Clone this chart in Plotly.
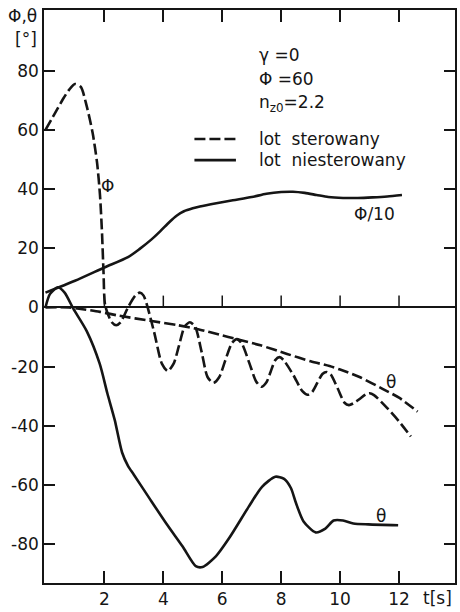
import plotly.graph_objects as go

# --- data -------------------------------------------------------------
# roll angle, controlled flight (dashed)
phi_ctrl_t = [0, 0.2, 0.4, 0.6, 0.8, 1.0, 1.2, 1.4, 1.6, 1.75, 1.85, 1.92, 1.97, 2.03,
              2.25, 2.4, 2.55, 2.8, 3.05, 3.2, 3.33, 3.68, 3.95, 4.15, 4.35, 4.53,
              4.72, 4.9, 5.08, 5.3, 5.5, 5.7, 5.9, 6.1, 6.33, 6.5, 6.67, 6.92, 7.15,
              7.33, 7.5, 7.64, 7.8, 7.95, 8.1, 8.42, 8.72, 8.9, 9.05, 9.22, 9.4, 9.54,
              9.68, 9.92, 10.15, 10.3, 10.45, 10.65, 10.87, 11.0, 11.15, 11.6, 12.0,
              12.4]
phi_ctrl_v = [60, 63.5, 67, 70.5, 73.5, 75.5, 74.5, 68, 59, 49, 38, 25, 12, 0.5,
              -5, -6, -5, 0, 4, 5, 4, -8, -19, -21.5, -19, -13,
              -6.5, -5, -6.5, -15, -23.5, -25.5, -23.5, -18, -12, -10.7, -12.3, -18.8, -25,
              -26.8, -25.3, -21.8, -17.8, -16.8, -18, -23, -28.3, -29.5, -28.6, -25.6, -22.5, -21.8,
              -22.6, -27.4, -32.2, -33, -32.4, -31, -29.4, -29, -29.6, -34, -38.5,
              -43.6]

# pitch angle, controlled flight (dashed, smooth)
theta_ctrl_t = [0, 0.8, 1.2, 1.85, 2.5, 3.55, 4.5, 5.24, 5.9, 6.5, 7.3, 8.2, 9.0, 9.64,
                10.0, 10.66, 11.44, 12.0, 12.63]
theta_ctrl_v = [0, 0, -0.5, -1.5, -2.8, -4.5, -6, -7.5, -9.2, -10.7, -12.8, -15.7, -18.2,
                -19.8, -21, -23.5, -27.5, -30.5, -35.2]

# roll angle / 10, uncontrolled flight (solid)
phi10_t = [0, 1.0, 2.0, 2.8, 3.2, 3.6, 3.9, 4.2, 4.45, 4.7, 5.0, 5.24, 5.8, 6.36, 7.0,
           7.5, 8.0, 8.4, 8.8, 9.2, 9.6, 10.1, 10.6, 11.1, 11.6, 12.1]
phi10_v = [5, 9, 13.5, 17, 19.8, 23, 25.8, 28.8, 31, 32.5, 33.5, 34.1, 35.2, 36.2, 37.3,
           38.4, 39.0, 39.1, 38.7, 38.0, 37.3, 37.0, 37.0, 37.2, 37.5, 38.0]

# pitch angle, uncontrolled flight (solid)
theta_free_t = [0, 0.15, 0.42, 0.65, 0.95, 1.4, 1.84, 2.1, 2.35, 2.6, 2.8, 3.0, 3.53,
                4.1, 4.65, 5.1, 5.33, 5.79, 6.23, 6.9, 7.35, 7.8, 8.1, 8.33, 8.5, 8.76,
                9.17, 9.5, 9.78, 10.1, 10.45, 10.96, 11.97]
theta_free_v = [0, 4.5, 6.8, 5, -0.5, -8, -19, -29, -38, -49, -53.5, -56.5, -64.5,
                -73, -80.7, -87.4, -87.7, -84, -78, -67.3, -60.6, -57.2, -57.9, -61, -66,
                -72.3, -76, -74.7, -72, -72, -73, -73.3, -73.6]

x_ticks = [2, 4, 6, 8, 10, 12]
y_ticks = [-80, -60, -40, -20, 0, 20, 40, 60, 80]
y_tick_text = ["-80", "-60", "-40", "-20", "0", "20", "40", "60", "80"]

# --- styling ----------------------------------------------------------
INK = "#151515"
FONT = "DejaVu Sans"
DASH = "11px,4px"

fig = go.Figure()


def curve(t, v, dash):
    fig.add_trace(go.Scatter(
        x=t, y=v, mode="lines",
        line=dict(color=INK, width=2.6, dash=dash, shape="spline", smoothing=0.7),
        showlegend=False, hoverinfo="skip"))


curve(phi10_t, phi10_v, "solid")
curve(theta_free_t, theta_free_v, "solid")
curve(theta_ctrl_t, theta_ctrl_v, DASH)
curve(phi_ctrl_t, phi_ctrl_v, DASH)

shapes = []
# small upward ticks along the t axis drawn at zero
for xt in x_ticks:
    shapes.append(dict(type="line", xref="x", yref="y", x0=xt, x1=xt, y0=0, y1=4,
                       line=dict(color=INK, width=1.5)))

# key samples
shapes.append(dict(type="line", xref="paper", yref="paper", x0=0.366, x1=0.467,
                   y0=0.775, y1=0.775, line=dict(color=INK, width=2.6, dash=DASH)))
shapes.append(dict(type="line", xref="paper", yref="paper", x0=0.366, x1=0.467,
                   y0=0.738, y1=0.738, line=dict(color=INK, width=2.6)))

annotations = []


def note(text, x, y, xref="paper", yref="paper", xanchor="left", size=17):
    annotations.append(dict(text=text, x=x, y=y, xref=xref, yref=yref,
                            xanchor=xanchor, yanchor="middle", showarrow=False,
                            font=dict(family=FONT, size=size, color=INK)))


# axis titles
note("Φ,θ", -0.053, 0.989, xanchor="center")
note("[°]", -0.044, 0.950, xanchor="center")
note("t[s]", 0.958, -0.026, xanchor="center")

# parameter block and key
note("γ =0", 0.518, 0.922)
note("Φ =60", 0.518, 0.879)
note("n<sub>z0</sub>=2.2", 0.518, 0.837)
note("lot  sterowany", 0.518, 0.775)
note("lot  niesterowany", 0.518, 0.738)

# curve labels
note("Φ", 2.11, 41, xref="x", yref="y", xanchor="center")
note("Φ/10", 11.17, 31.7, xref="x", yref="y", xanchor="center")
note("θ", 11.74, -25.3, xref="x", yref="y", xanchor="center")
note("θ", 11.4, -70.6, xref="x", yref="y", xanchor="center")

axis_common = dict(showline=True, linecolor=INK, linewidth=1.6, mirror="ticks",
                   ticks="inside", tickcolor=INK, tickwidth=1.5, showgrid=False,
                   tickfont=dict(family=FONT, size=17, color=INK))

fig.update_layout(
    width=460, height=612,
    margin=dict(l=44, r=3, t=10, b=25),
    paper_bgcolor="white", plot_bgcolor="white",
    xaxis=dict(range=[-0.05, 13.9], tickvals=x_ticks, ticklen=12,
               zeroline=False, **axis_common),
    yaxis=dict(range=[-93.1, 100.5], tickvals=y_ticks, ticktext=y_tick_text, ticklen=11,
               zeroline=True, zerolinecolor=INK, zerolinewidth=1.5, **axis_common),
    shapes=shapes,
    annotations=annotations,
)

fig.write_html("out.html")
